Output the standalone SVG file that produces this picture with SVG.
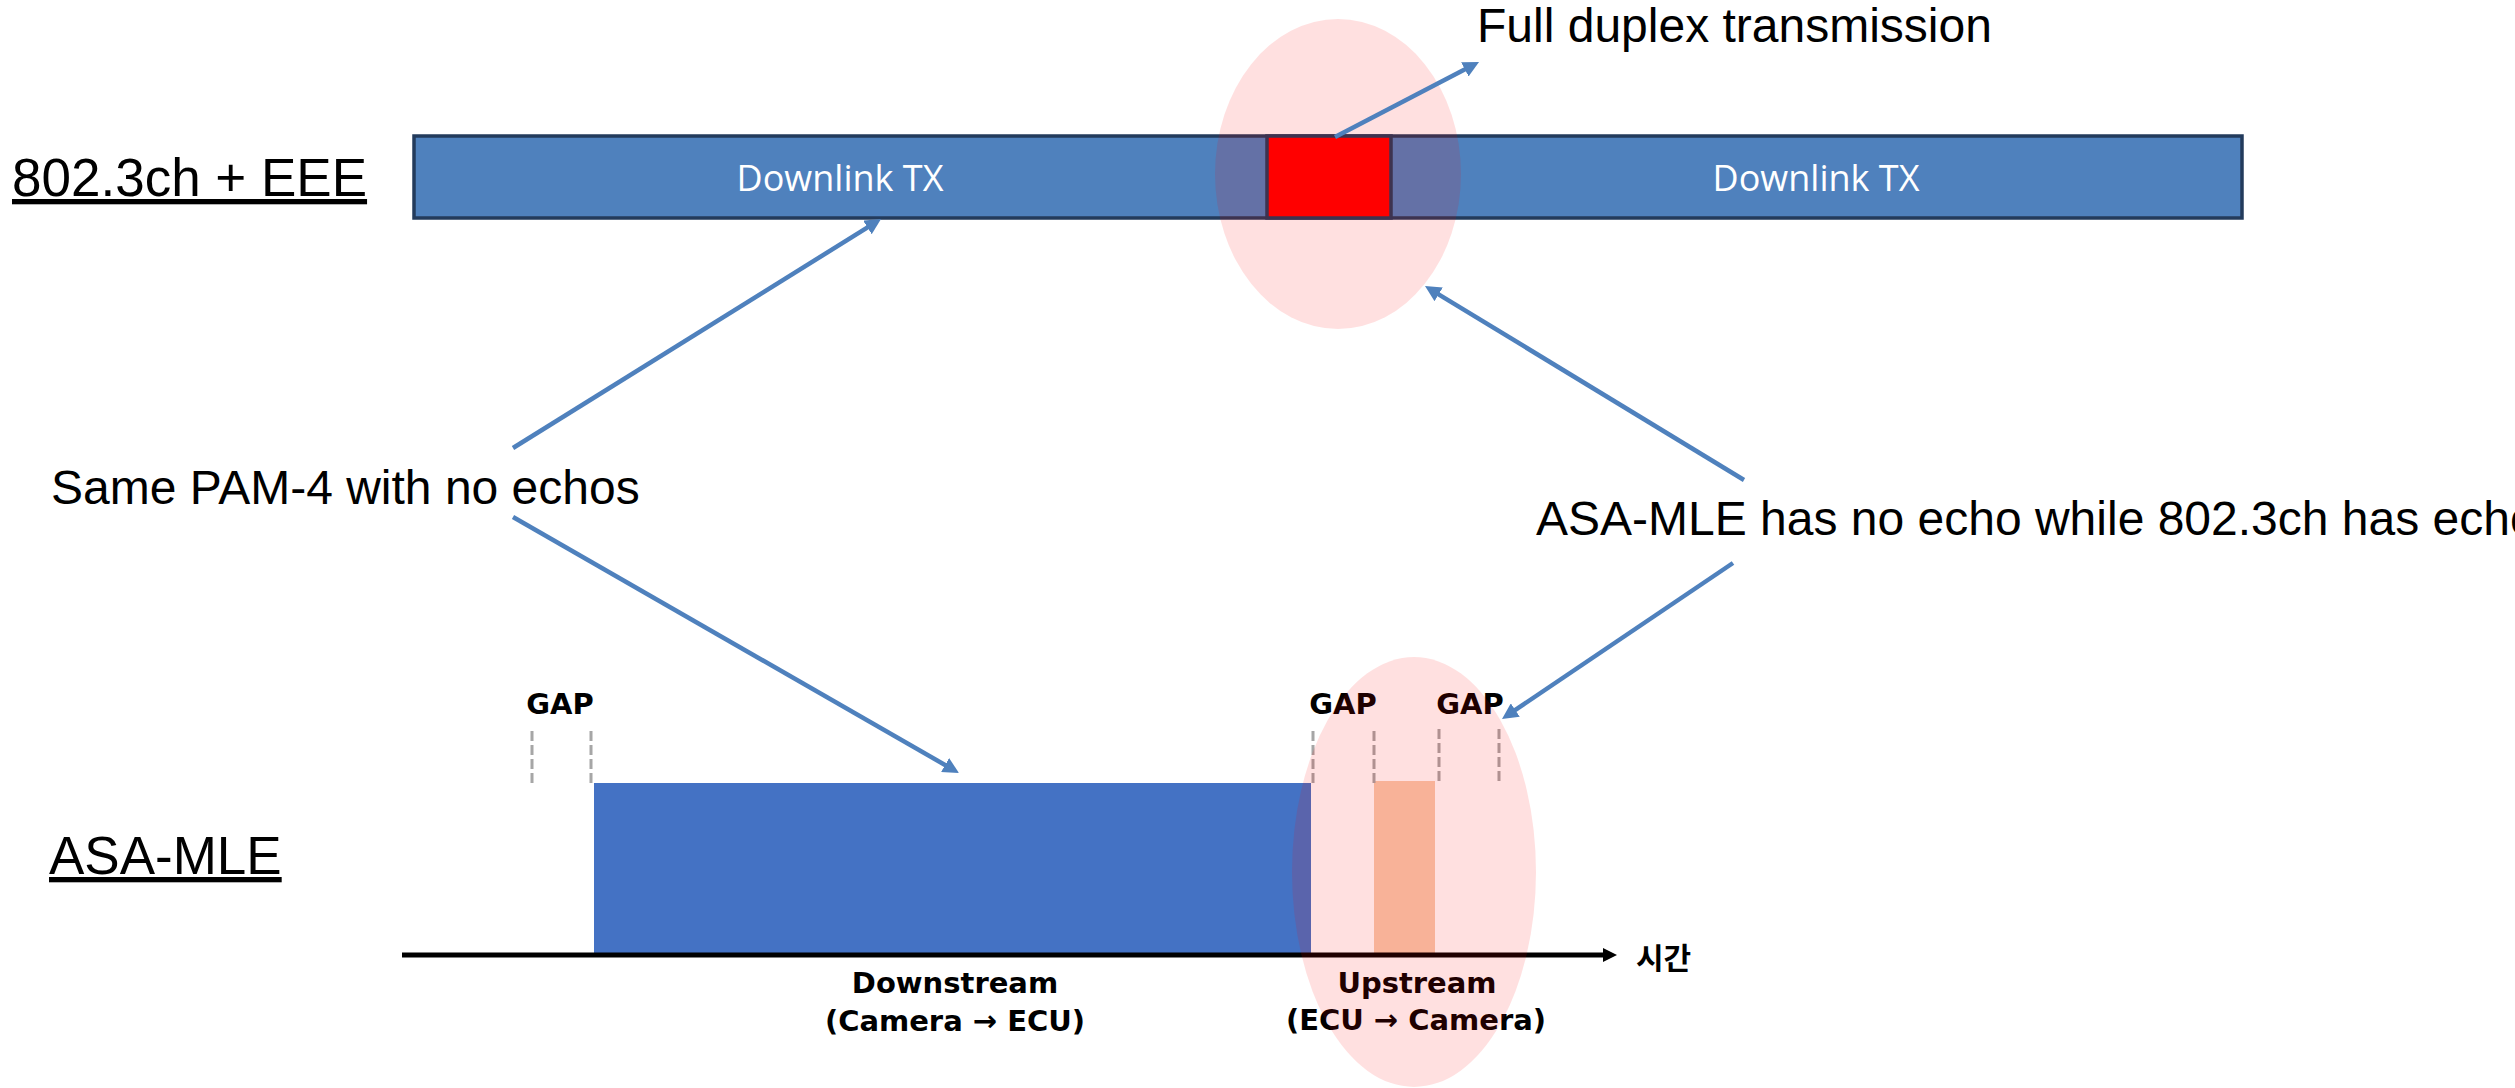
<svg xmlns="http://www.w3.org/2000/svg" width="2515" height="1088" viewBox="0 0 2515 1088">
<defs>
<style>
.lbl{font-family:"Liberation Sans",Arial,sans-serif;font-size:48px;fill:#000}
.title{font-family:"Liberation Sans",Arial,sans-serif;font-size:53px;fill:#000;text-decoration:underline}
.dl{font-family:"Open Sans","Noto Sans",sans-serif;font-size:36px;fill:#fff;text-anchor:middle}
.bold{font-family:"DejaVu Sans",Verdana,sans-serif;font-weight:bold;font-size:29px;fill:#000;text-anchor:middle}
.gapl{stroke:#A6A6A6;stroke-width:3;stroke-dasharray:10 4;fill:none}
.hl{fill:#FF0000;fill-opacity:0.12}
.conn{stroke:#4F81BD;stroke-width:4.5;fill:none;marker-end:url(#ah)}
</style>
<marker id="ah" markerUnits="userSpaceOnUse" markerWidth="18" markerHeight="16" refX="3" refY="8" orient="auto">
<path d="M0,0 L16,8 L0,16 z" fill="#4F81BD"/>
</marker>
<marker id="axh" markerUnits="userSpaceOnUse" markerWidth="16" markerHeight="16" refX="2" refY="7" orient="auto">
<path d="M0,0 L14,7 L0,14 z" fill="#000"/>
</marker>
</defs>
<rect width="2515" height="1088" fill="#fff"/>

<g id="label-8023ch">
<text class="title" x="12" y="196">802.3ch + EEE</text>
</g>

<g id="bar-8023ch">
<rect x="414" y="136" width="1828" height="82" fill="#4F81BD" stroke="#233B5C" stroke-width="3.5"/>
<rect x="1267" y="136" width="124" height="82" fill="#FF0000" stroke="#233B5C" stroke-width="3.5"/>
<text class="dl" x="840" y="191">Downlink TX</text>
<text class="dl" x="1816" y="191">Downlink TX</text>
<ellipse class="hl" cx="1338" cy="174" rx="123" ry="155"/>
</g>

<g id="label-fullduplex">
<text class="lbl" x="1477" y="42">Full duplex transmission</text>
</g>

<g id="label-samepam">
<text class="lbl" x="51" y="504">Same PAM-4 with no echos</text>
</g>

<g id="label-noecho">
<text class="lbl" x="1536" y="535">ASA-MLE has no echo while 802.3ch has echo</text>
</g>

<g id="label-asamle">
<text class="title" x="49" y="874">ASA-MLE</text>
</g>

<g id="timeline">
<rect x="594" y="783" width="717" height="171" fill="#4472C4"/>
<rect x="1374" y="781" width="61" height="173" fill="#F8CBAD"/>
<line x1="402" y1="955" x2="1605" y2="955" stroke="#000" stroke-width="5" marker-end="url(#axh)"/>
<text x="1636" y="969" style="font-family:'Noto Sans CJK KR',sans-serif;font-size:30px;font-weight:700;fill:#000">시간</text>
<g id="gap1">
<text class="bold" x="560" y="714">GAP</text>
<line class="gapl" x1="532" y1="731" x2="532" y2="784"/>
<line class="gapl" x1="591" y1="731" x2="591" y2="784"/>
</g>
<g id="gap2">
<text class="bold" x="1343" y="714">GAP</text>
<line class="gapl" x1="1313" y1="731" x2="1313" y2="784"/>
<line class="gapl" x1="1374" y1="731" x2="1374" y2="784"/>
</g>
<g id="gap3">
<text class="bold" x="1470" y="714">GAP</text>
<line class="gapl" x1="1439" y1="729" x2="1439" y2="782"/>
<line class="gapl" x1="1499" y1="729" x2="1499" y2="782"/>
</g>
<g id="downstream">
<text class="bold" x="955" y="993">Downstream</text>
<text class="bold" x="955" y="1031">(Camera → ECU)</text>
</g>
<g id="upstream">
<text class="bold" x="1417" y="993">Upstream</text>
<text class="bold" x="1416" y="1030">(ECU → Camera)</text>
</g>
<ellipse class="hl" cx="1414" cy="872" rx="122" ry="215"/>
</g>

<g id="connectors">
<line class="conn" x1="1335" y1="137" x2="1467.5" y2="68"/>
<line class="conn" x1="513" y1="448" x2="870" y2="225.9"/>
<line class="conn" x1="513" y1="517" x2="947.7" y2="766.5"/>
<line class="conn" x1="1744" y1="480" x2="1436.1" y2="292.8"/>
<line class="conn" x1="1733" y1="563" x2="1512.8" y2="711.7"/>
</g>
</svg>
